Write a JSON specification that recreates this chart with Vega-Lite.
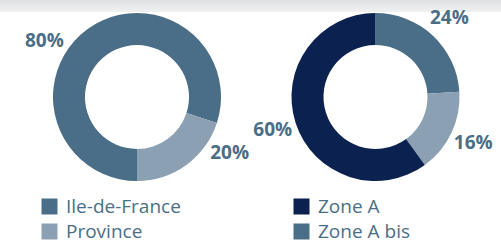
{
  "$schema": "https://vega.github.io/schema/vega-lite/v6.json",
  "padding": 0,
  "spacing": 0,
  "bounds": "flush",
  "background": "white",
  "config": {
    "view": {"stroke": null},
    "concat": {"spacing": 0},
    "font": "Open Sans",
    "legend": {
      "symbolType": "square",
      "symbolSize": 256,
      "symbolStrokeWidth": 0,
      "labelFontSize": 19,
      "labelFont": "Open Sans",
      "labelColor": "#4a6e87",
      "labelOffset": 7,
      "rowPadding": 5,
      "title": null
    }
  },
  "vconcat": [
    {
      "width": 501,
      "height": 12,
      "data": {"values": [{"part": "header"}]},
      "mark": {
        "type": "rect",
        "color": {
          "gradient": "linear",
          "x1": 0, "y1": 0, "x2": 0, "y2": 1,
          "stops": [
            {"offset": 0, "color": "#dfe0e2"},
            {"offset": 1, "color": "#f1f1f2"}
          ]
        }
      }
    },
    {
      "spacing": 0,
      "bounds": "flush",
      "hconcat": [
        {
          "width": 274,
          "height": 170,
          "data": {"values": [
            {"cat": "Ile-de-France", "value": 0.8, "rank": 1},
            {"cat": "Province", "value": 0.2, "rank": 2}
          ]},
          "layer": [
            {
              "mark": {"type": "arc", "innerRadius": 52, "outerRadius": 84},
              "encoding": {
                "theta": {"field": "value", "type": "quantitative", "stack": true, "scale": {"range": [3.14159265, 9.42477796]}},
                "order": {"field": "rank", "type": "quantitative"},
                "color": {"field": "cat", "type": "nominal",
                  "scale": {"domain": ["Ile-de-France", "Province"], "range": ["#4a6e87", "#8ba0b3"]},
                  "legend": {"orient": "none", "legendX": 40, "legendY": 185, "title": null}}
              }
            },
            {
              "mark": {"type": "text", "radius": 108, "fontSize": 19, "fontWeight": "bold", "color": "#4a6e87", "font": "Open Sans"},
              "encoding": {
                "theta": {"field": "value", "type": "quantitative", "stack": true, "scale": {"range": [1.48352986, 7.76671517]}},
                "order": {"field": "rank", "type": "quantitative", "sort": "descending"},
                "text": {"field": "value", "type": "quantitative", "format": ".0%"}
              }
            }
          ],
          "resolve": {"scale": {"theta": "independent"}}
        },
        {
          "width": 203,
          "height": 170,
          "data": {"values": [
            {"cat": "Zone A bis", "value": 0.24, "rank": 1},
            {"cat": "Autres", "value": 0.16, "rank": 2},
            {"cat": "Zone A", "value": 0.6, "rank": 3}
          ]},
          "encoding": {
            "theta": {"field": "value", "type": "quantitative", "stack": true},
            "order": {"field": "rank", "type": "quantitative"}
          },
          "layer": [
            {
              "mark": {"type": "arc", "innerRadius": 52, "outerRadius": 84},
              "encoding": {
                "color": {"field": "cat", "type": "nominal",
                  "scale": {"domain": ["Zone A", "Zone A bis", "Autres"], "range": ["#0b214f", "#4a6e87", "#8ba0b3"]},
                  "legend": {"orient": "none", "legendX": 18, "legendY": 185, "title": null, "values": ["Zone A", "Zone A bis"]}}
              }
            },
            {
              "mark": {"type": "text", "radius": 108, "fontSize": 19, "fontWeight": "bold", "color": "#4a6e87", "font": "Open Sans"},
              "encoding": {"text": {"field": "value", "type": "quantitative", "format": ".0%"}}
            }
          ]
        }
      ],
      "resolve": {"scale": {"color": "independent", "theta": "independent"}, "legend": {"color": "independent"}}
    }
  ]
}
